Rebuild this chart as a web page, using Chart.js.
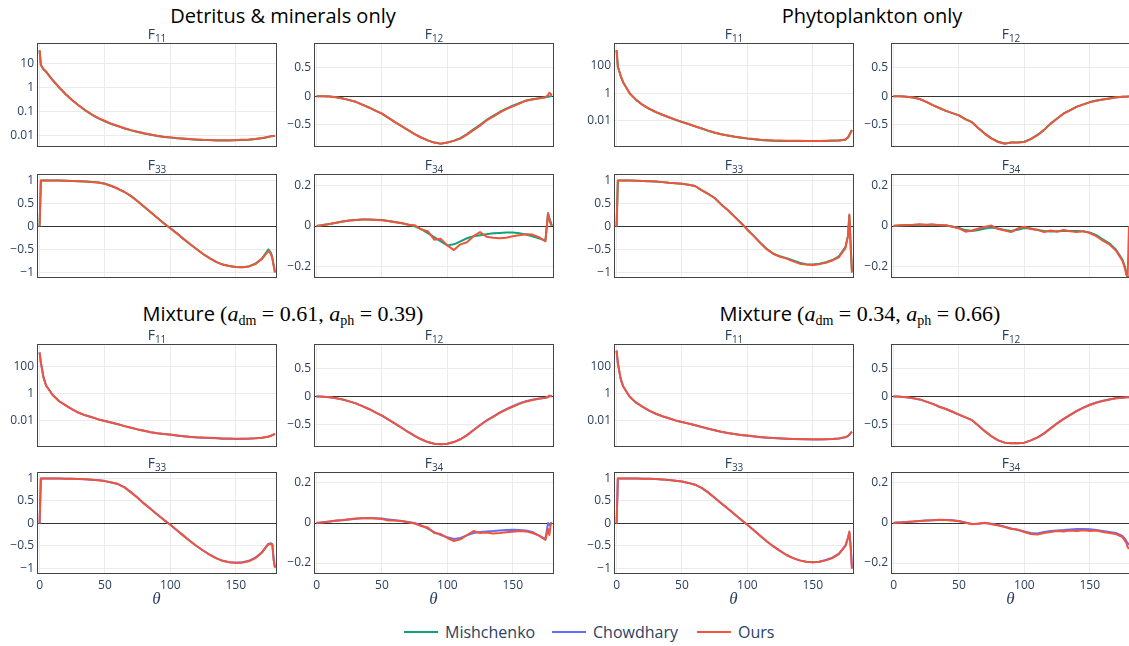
<!DOCTYPE html>
<html>
<head>
<meta charset="utf-8">
<script src="https://cdn.jsdelivr.net/npm/chart.js@4.4.1/dist/chart.umd.min.js"></script>
<style>
  html, body { margin: 0; padding: 0; width: 1129px; height: 646px; overflow: hidden; background: #fff; }
  canvas { position: absolute; }
  .grp { position: absolute; font-family: 'Open Sans', sans-serif; font-size: 20px; line-height: 24px;
         color: #000; white-space: nowrap; transform: translateX(-50%); }
  .math { font-family: 'Liberation Serif', 'DejaVu Serif', serif; font-size: 22px; }
  .math sub { font-size: 14px; vertical-align: -4px; line-height: 0; }
  .sub { position: absolute; font-family: 'Open Sans', sans-serif; font-size: 14px; line-height: 14px;
         color: #2a3f5f; text-align: center; }
  .sub sub { font-size: 10px; vertical-align: -3px; line-height: 0; }
  .theta { position: absolute; font-family: 'Liberation Serif', serif; font-style: italic; font-size: 17px;
           line-height: 20px; color: #2a3f5f; transform: translateX(-50%); }
  .leg { position: absolute; top: 622px; height: 20px; font-family: 'Open Sans', sans-serif; font-size: 16px;
         line-height: 20px; color: #2a3f5f; white-space: nowrap; }
  .legline { position: absolute; top: 631px; height: 2px; width: 34px; }
</style>
</head>
<body>
<div class="grp" style="left:283px; top:4px;">Detritus &amp; minerals only</div>
<div class="grp" style="left:872px; top:4px;">Phytoplankton only</div>
<div class="grp" style="left:283px; top:302px;">Mixture <span class="math">(<i>a</i><sub>dm</sub> = 0.61, <i>a</i><sub>ph</sub> = 0.39)</span></div>
<div class="grp" style="left:860px; top:302px;">Mixture <span class="math">(<i>a</i><sub>dm</sub> = 0.34, <i>a</i><sub>ph</sub> = 0.66)</span></div>

<div class="legline" style="left:404px; background:#13a07c;"></div>
<div class="leg" style="left:445px;">Mishchenko</div>
<div class="legline" style="left:552px; background:#636efa;"></div>
<div class="leg" style="left:593px;">Chowdhary</div>
<div class="legline" style="left:697px; background:#ef553b;"></div>
<div class="leg" style="left:738px;">Ours</div>

<script>
// scattering angle grid (degrees), shared by every curve
var THETA = [0, 1, 3, 5, 10, 15, 20, 25, 30, 35, 40, 45, 50, 55, 60, 65, 70, 75, 80, 85, 90, 95,
  100, 105, 110, 115, 120, 125, 130, 135, 140, 145, 150, 155, 160, 165, 170, 175, 177, 178, 179, 180];

// ---- F11 ----
var detF11Ours = [38, 9, 6, 4.8, 2.14, 1.05, 0.55, 0.31, 0.186, 0.117, 0.078, 0.055, 0.042, 0.032,
  0.026, 0.021, 0.0174, 0.0148, 0.0129, 0.0115, 0.0102, 0.0093, 0.0087, 0.0081,
  0.0078, 0.0074, 0.0071, 0.0069, 0.0068, 0.0066, 0.0066, 0.0066, 0.0067, 0.0069,
  0.0071, 0.0075, 0.0081, 0.0092, 0.0098, 0.0099, 0.01, 0.01];
var detF11Mish = [36, 9, 6, 4.7, 2.12, 1.04, 0.55, 0.31, 0.185, 0.116, 0.077, 0.054, 0.041, 0.031,
  0.0255, 0.0205, 0.017, 0.0145, 0.0126, 0.0112, 0.01, 0.0091, 0.0085, 0.0079,
  0.0076, 0.0072, 0.007, 0.0068, 0.0067, 0.0065, 0.0065, 0.0065, 0.0066, 0.0068,
  0.007, 0.0074, 0.008, 0.009, 0.0096, 0.0098, 0.0099, 0.0099];
var phyF11Ours = [1380, 85, 20, 6.3, 1.0, 0.33, 0.14, 0.074, 0.043, 0.027, 0.018, 0.012, 0.0083, 0.0058,
  0.004, 0.00275, 0.0019, 0.00138, 0.00105, 0.00085, 0.0007, 0.0006, 0.00052, 0.00047,
  0.00042, 0.00039, 0.00037, 0.00036, 0.00035, 0.00035, 0.00035, 0.00034, 0.00034, 0.00034,
  0.00035, 0.00036, 0.00037, 0.00043, 0.00063, 0.00091, 0.0014, 0.0021];
var phyF11Mish = [1350, 85, 20, 6.2, 0.98, 0.33, 0.14, 0.073, 0.042, 0.027, 0.018, 0.0118, 0.0081, 0.0057,
  0.0039, 0.0027, 0.00185, 0.00135, 0.00103, 0.00083, 0.00068, 0.00058, 0.0005, 0.00045,
  0.0004, 0.00037, 0.00035, 0.00034, 0.00033, 0.00033, 0.00033, 0.00033, 0.00033, 0.00033,
  0.00034, 0.00035, 0.00036, 0.00042, 0.0006, 0.0009, 0.0014, 0.002];
var mx1F11Ours = [1100, 200, 16, 4, 0.8, 0.28, 0.14, 0.07, 0.04, 0.026, 0.019, 0.013, 0.01, 0.0076,
  0.0058, 0.0042, 0.0032, 0.0024, 0.0019, 0.0015, 0.00126, 0.0011, 0.001, 0.00087,
  0.00076, 0.00068, 0.00063, 0.0006, 0.00058, 0.00055, 0.00052, 0.00051, 0.0005, 0.0005,
  0.00051, 0.00054, 0.00059, 0.00071, 0.00083, 0.00093, 0.00105, 0.0011];
var mx1F11Chow = [1080, 195, 16, 4, 0.8, 0.28, 0.14, 0.07, 0.04, 0.026, 0.019, 0.013, 0.01, 0.0075,
  0.0057, 0.0042, 0.0032, 0.0024, 0.0019, 0.0015, 0.00125, 0.0011, 0.00098, 0.00086,
  0.00075, 0.00067, 0.00062, 0.00058, 0.00056, 0.00053, 0.0005, 0.00049, 0.00048, 0.00049,
  0.0005, 0.00053, 0.00058, 0.0007, 0.00082, 0.00092, 0.001, 0.0011];
var mx2F11Ours = [1500, 180, 14, 3.5, 0.6, 0.22, 0.11, 0.058, 0.034, 0.022, 0.016, 0.011, 0.0085, 0.0065,
  0.005, 0.0037, 0.0028, 0.0021, 0.0016, 0.0013, 0.0011, 0.00095, 0.00084, 0.00074,
  0.00066, 0.0006, 0.00056, 0.00053, 0.0005, 0.00048, 0.00047, 0.00046, 0.00045, 0.00045,
  0.00046, 0.00048, 0.00052, 0.00065, 0.0008, 0.001, 0.0013, 0.0016];
var mx2F11Chow = [1450, 175, 14, 3.5, 0.6, 0.22, 0.11, 0.057, 0.034, 0.022, 0.016, 0.011, 0.0084, 0.0064,
  0.0049, 0.0036, 0.0027, 0.0021, 0.0016, 0.0013, 0.0011, 0.00093, 0.00082, 0.00072,
  0.00064, 0.00059, 0.00055, 0.00052, 0.00049, 0.00047, 0.00046, 0.00045, 0.00044, 0.00044,
  0.00045, 0.00047, 0.00051, 0.00063, 0.00078, 0.00098, 0.0013, 0.0016];

// ---- F12 ----
var detF12Ours = [0, 0, 0, -0.002, -0.006, -0.02, -0.04, -0.07, -0.1, -0.15, -0.2, -0.255, -0.31, -0.385,
  -0.46, -0.53, -0.6, -0.67, -0.73, -0.78, -0.82, -0.84, -0.82, -0.79,
  -0.75, -0.68, -0.6, -0.52, -0.43, -0.36, -0.29, -0.23, -0.18, -0.13,
  -0.08, -0.06, -0.04, -0.02, 0.02, 0.06, 0.04, 0.01];
var detF12Mish = [0, 0, 0, -0.002, -0.006, -0.02, -0.04, -0.07, -0.1, -0.15, -0.2, -0.255, -0.31, -0.385,
  -0.46, -0.53, -0.6, -0.67, -0.73, -0.78, -0.82, -0.838, -0.82, -0.785,
  -0.74, -0.67, -0.585, -0.505, -0.42, -0.35, -0.28, -0.22, -0.17, -0.125,
  -0.08, -0.055, -0.035, -0.02, -0.012, -0.008, -0.004, 0];
var phyF12Ours = [0, 0, 0, -0.003, -0.01, -0.025, -0.05, -0.1, -0.16, -0.21, -0.26, -0.3, -0.34, -0.41,
  -0.46, -0.57, -0.67, -0.75, -0.81, -0.84, -0.82, -0.82, -0.81, -0.76,
  -0.69, -0.6, -0.49, -0.4, -0.31, -0.25, -0.19, -0.15, -0.11, -0.08,
  -0.06, -0.04, -0.02, -0.01, -0.008, -0.01, -0.005, -0.006];
var phyF12Mish = [0, 0, 0, -0.003, -0.01, -0.025, -0.05, -0.1, -0.16, -0.21, -0.26, -0.3, -0.34, -0.405,
  -0.46, -0.565, -0.665, -0.745, -0.805, -0.835, -0.82, -0.818, -0.805, -0.755,
  -0.685, -0.595, -0.485, -0.395, -0.305, -0.245, -0.185, -0.145, -0.105, -0.078,
  -0.058, -0.04, -0.022, -0.012, -0.01, -0.01, -0.008, -0.008];
var mx1F12Ours = [0, 0, 0, -0.003, -0.01, -0.03, -0.05, -0.085, -0.12, -0.17, -0.22, -0.28, -0.34, -0.41,
  -0.48, -0.555, -0.63, -0.7, -0.76, -0.81, -0.84, -0.85, -0.84, -0.81,
  -0.76, -0.69, -0.6, -0.51, -0.43, -0.36, -0.29, -0.23, -0.18, -0.13,
  -0.09, -0.06, -0.04, -0.02, 0, 0.02, 0.01, 0];
var mx1F12Chow = [0, 0, 0, -0.003, -0.01, -0.03, -0.05, -0.085, -0.12, -0.17, -0.22, -0.28, -0.34, -0.41,
  -0.48, -0.555, -0.63, -0.7, -0.76, -0.81, -0.84, -0.85, -0.84, -0.81,
  -0.76, -0.685, -0.595, -0.505, -0.425, -0.355, -0.285, -0.225, -0.17, -0.12,
  -0.08, -0.055, -0.035, -0.02, -0.01, 0, 0.01, 0.015];
var mx2F12Ours = [0, 0, 0, -0.003, -0.01, -0.03, -0.05, -0.09, -0.13, -0.18, -0.22, -0.27, -0.32, -0.37,
  -0.42, -0.52, -0.62, -0.71, -0.78, -0.82, -0.83, -0.83, -0.82, -0.78,
  -0.73, -0.66, -0.57, -0.48, -0.4, -0.33, -0.26, -0.2, -0.15, -0.11,
  -0.08, -0.05, -0.03, -0.02, -0.015, -0.01, -0.01, -0.01];
var mx2F12Chow = [0, 0, 0, -0.003, -0.01, -0.03, -0.05, -0.09, -0.13, -0.18, -0.22, -0.27, -0.32, -0.37,
  -0.42, -0.52, -0.62, -0.71, -0.78, -0.82, -0.83, -0.83, -0.82, -0.78,
  -0.725, -0.655, -0.565, -0.475, -0.395, -0.325, -0.255, -0.195, -0.145, -0.105,
  -0.075, -0.05, -0.03, -0.02, -0.015, -0.012, -0.01, -0.01];

// ---- F33 ----
var detF33Ours = [0, 1, 1, 1, 1, 0.998, 0.995, 0.99, 0.985, 0.978, 0.97, 0.955, 0.93, 0.88,
  0.82, 0.75, 0.66, 0.55, 0.43, 0.31, 0.19, 0.07, -0.04, -0.15,
  -0.27, -0.38, -0.49, -0.6, -0.69, -0.77, -0.83, -0.86, -0.88, -0.89,
  -0.87, -0.82, -0.71, -0.53, -0.6, -0.7, -0.85, -1];
var detF33Mish = [0, 1, 1, 1, 1, 0.998, 0.995, 0.99, 0.985, 0.978, 0.97, 0.955, 0.93, 0.88,
  0.82, 0.75, 0.66, 0.55, 0.43, 0.31, 0.19, 0.07, -0.04, -0.15,
  -0.27, -0.38, -0.49, -0.6, -0.69, -0.77, -0.83, -0.86, -0.88, -0.89,
  -0.87, -0.81, -0.7, -0.5, -0.58, -0.68, -0.84, -1];
var phyF33Ours = [0, 1, 1, 1, 1, 0.995, 0.99, 0.985, 0.98, 0.965, 0.95, 0.94, 0.93, 0.91,
  0.88, 0.79, 0.71, 0.62, 0.48, 0.36, 0.22, 0.08, -0.07, -0.21,
  -0.36, -0.5, -0.6, -0.66, -0.7, -0.76, -0.81, -0.83, -0.84, -0.82,
  -0.79, -0.74, -0.67, -0.47, -0.2, 0.26, -0.4, -1];
var phyF33Mish = [0, 1, 1, 1, 1, 0.995, 0.99, 0.985, 0.98, 0.965, 0.95, 0.94, 0.93, 0.91,
  0.88, 0.79, 0.71, 0.62, 0.48, 0.36, 0.22, 0.08, -0.07, -0.21,
  -0.36, -0.49, -0.59, -0.65, -0.69, -0.74, -0.79, -0.82, -0.83, -0.81,
  -0.78, -0.73, -0.65, -0.45, -0.2, 0.24, -0.4, -1];
var mx1F33Ours = [0, 1, 1, 1, 1, 0.998, 0.995, 0.99, 0.985, 0.98, 0.97, 0.96, 0.94, 0.91,
  0.875, 0.8, 0.69, 0.57, 0.44, 0.32, 0.2, 0.08, -0.03, -0.15,
  -0.27, -0.39, -0.5, -0.6, -0.69, -0.77, -0.83, -0.86, -0.87, -0.87,
  -0.84, -0.77, -0.65, -0.46, -0.46, -0.47, -0.8, -0.98];
var mx1F33Chow = [0, 1, 1, 1, 1, 0.998, 0.995, 0.99, 0.985, 0.98, 0.97, 0.96, 0.94, 0.91,
  0.875, 0.8, 0.69, 0.57, 0.44, 0.32, 0.2, 0.08, -0.03, -0.15,
  -0.27, -0.39, -0.5, -0.6, -0.69, -0.77, -0.83, -0.86, -0.87, -0.86,
  -0.83, -0.76, -0.64, -0.45, -0.44, -0.46, -0.8, -0.98];
var mx2F33Ours = [0, 1, 1, 1, 1, 0.998, 0.995, 0.99, 0.985, 0.975, 0.965, 0.95, 0.93, 0.9,
  0.86, 0.79, 0.69, 0.57, 0.45, 0.33, 0.21, 0.09, -0.03, -0.15,
  -0.28, -0.4, -0.51, -0.61, -0.7, -0.77, -0.82, -0.85, -0.86, -0.85,
  -0.82, -0.77, -0.68, -0.5, -0.32, -0.18, -0.5, -1];
var mx2F33Chow = [0, 1, 1, 1, 1, 0.998, 0.995, 0.99, 0.985, 0.975, 0.965, 0.95, 0.93, 0.9,
  0.86, 0.79, 0.69, 0.57, 0.45, 0.33, 0.21, 0.09, -0.03, -0.15,
  -0.28, -0.4, -0.51, -0.61, -0.7, -0.77, -0.82, -0.85, -0.86, -0.85,
  -0.81, -0.76, -0.67, -0.49, -0.32, -0.2, -0.5, -1];

// ---- F34 ----
var detF34Ours = [0, 0.001, 0.003, 0.005, 0.01, 0.016, 0.022, 0.027, 0.03, 0.032, 0.032, 0.03, 0.028, 0.024,
  0.018, 0.015, 0.006, 0.004, -0.017, -0.025, -0.067, -0.063, -0.095, -0.118,
  -0.09, -0.08, -0.05, -0.03, -0.053, -0.058, -0.06, -0.058, -0.05, -0.045,
  -0.04, -0.042, -0.055, -0.075, 0.062, 0.03, 0.01, 0];
var detF34Mish = [0, 0.001, 0.003, 0.005, 0.01, 0.016, 0.022, 0.027, 0.03, 0.032, 0.032, 0.031, 0.029, 0.025,
  0.02, 0.014, 0.007, -0.002, -0.015, -0.035, -0.055, -0.075, -0.095, -0.09,
  -0.075, -0.06, -0.05, -0.045, -0.04, -0.036, -0.034, -0.032, -0.032, -0.035,
  -0.042, -0.05, -0.06, -0.072, 0.062, 0.04, 0.02, 0];
var phyF34Ours = [0, 0.001, 0.002, 0.004, 0.005, 0.006, 0.008, 0.005, 0.008, 0.004, 0.004, -0.004, -0.012, -0.028,
  -0.022, -0.012, -0.004, 0.002, -0.015, -0.022, -0.03, -0.012, -0.004, -0.015,
  -0.018, -0.03, -0.022, -0.028, -0.02, -0.026, -0.03, -0.024, -0.035, -0.05,
  -0.072, -0.09, -0.12, -0.17, -0.21, -0.24, -0.25, 0];
var phyF34Mish = [0, 0.001, 0.002, 0.003, 0.004, 0.005, 0.006, 0.006, 0.006, 0.005, 0.003, -0.002, -0.01, -0.02,
  -0.025, -0.02, -0.012, -0.008, -0.012, -0.02, -0.025, -0.018, -0.01, -0.012,
  -0.02, -0.025, -0.027, -0.026, -0.025, -0.024, -0.025, -0.027, -0.032, -0.045,
  -0.065, -0.085, -0.115, -0.165, -0.2, -0.23, -0.25, -0.25];
var mx1F34Ours = [0, 0.001, 0.002, 0.004, 0.008, 0.012, 0.015, 0.019, 0.022, 0.024, 0.025, 0.023, 0.02, 0.013,
  0.012, 0.01, 0.004, -0.003, -0.015, -0.022, -0.05, -0.055, -0.075, -0.09,
  -0.082, -0.06, -0.04, -0.05, -0.048, -0.052, -0.05, -0.046, -0.044, -0.04,
  -0.042, -0.05, -0.062, -0.085, -0.03, -0.06, -0.01, 0];
var mx1F34Chow = [0, 0.001, 0.002, 0.004, 0.007, 0.011, 0.014, 0.018, 0.021, 0.024, 0.025, 0.024, 0.022, 0.018,
  0.014, 0.01, 0.005, 0, -0.012, -0.028, -0.046, -0.06, -0.071, -0.08,
  -0.075, -0.062, -0.05, -0.045, -0.042, -0.04, -0.037, -0.035, -0.034, -0.035,
  -0.037, -0.045, -0.063, -0.08, 0, -0.01, 0, 0];
var mx2F34Ours = [0, 0.001, 0.002, 0.003, 0.005, 0.008, 0.01, 0.013, 0.014, 0.016, 0.015, 0.013, 0.009, 0.001,
  -0.006, -0.002, 0.001, -0.006, -0.012, -0.02, -0.03, -0.033, -0.045, -0.055,
  -0.058, -0.05, -0.045, -0.04, -0.042, -0.038, -0.04, -0.036, -0.04, -0.038,
  -0.045, -0.05, -0.055, -0.07, -0.09, -0.1, -0.12, -0.13];
var mx2F34Chow = [0, 0.001, 0.002, 0.003, 0.005, 0.007, 0.01, 0.012, 0.014, 0.015, 0.015, 0.014, 0.01, 0.003,
  -0.005, -0.004, 0, -0.004, -0.01, -0.018, -0.027, -0.035, -0.042, -0.05,
  -0.052, -0.045, -0.04, -0.037, -0.035, -0.032, -0.03, -0.03, -0.031, -0.035,
  -0.04, -0.045, -0.05, -0.065, -0.08, -0.09, -0.1, -0.11];

// tick values
var xTicks = [0, 50, 100, 150];
var f11DetTicks = [10, 1, 0.1, 0.01];
var f11Ticks = [100, 1, 0.01];
var f12Ticks = [0.5, 0, -0.5];
var f33Ticks = [1, 0.5, 0, -0.5, -1];
var f34Ticks = [0.2, 0, -0.2];

var OURS = '#ef553b', MISH = '#13a07c', CHOW = '#636efa';

var yAxes = {
  f11dm: { type: 'logarithmic', min: 0.0038, max: 68, ticks: f11DetTicks },
  f11: { type: 'logarithmic', min: 1.45e-4, max: 3800, ticks: f11Ticks },
  f12: { type: 'linear', min: -0.88, max: 0.92, ticks: f12Ticks },
  f33: { type: 'linear', min: -1.1, max: 1.12, ticks: f33Ticks },
  f34: { type: 'linear', min: -0.25, max: 0.25, ticks: f34Ticks }
};

// plot-area edges in page pixels
var cols = [[38, 276], [315, 553], [615, 853], [892, 1130]];
var rows = [[44, 146], [175, 277], [345, 446], [473, 573]];

var panels = [
  { col: 0, row: 0, name: '11', axis: 'f11dm', ours: detF11Ours, ref: detF11Mish, refColor: MISH },
  { col: 1, row: 0, name: '12', axis: 'f12', ours: detF12Ours, ref: detF12Mish, refColor: MISH },
  { col: 0, row: 1, name: '33', axis: 'f33', ours: detF33Ours, ref: detF33Mish, refColor: MISH },
  { col: 1, row: 1, name: '34', axis: 'f34', ours: detF34Ours, ref: detF34Mish, refColor: MISH },
  { col: 2, row: 0, name: '11', axis: 'f11', ours: phyF11Ours, ref: phyF11Mish, refColor: MISH },
  { col: 3, row: 0, name: '12', axis: 'f12', ours: phyF12Ours, ref: phyF12Mish, refColor: MISH },
  { col: 2, row: 1, name: '33', axis: 'f33', ours: phyF33Ours, ref: phyF33Mish, refColor: MISH },
  { col: 3, row: 1, name: '34', axis: 'f34', ours: phyF34Ours, ref: phyF34Mish, refColor: MISH },
  { col: 0, row: 2, name: '11', axis: 'f11', ours: mx1F11Ours, ref: mx1F11Chow, refColor: CHOW },
  { col: 1, row: 2, name: '12', axis: 'f12', ours: mx1F12Ours, ref: mx1F12Chow, refColor: CHOW },
  { col: 0, row: 3, name: '33', axis: 'f33', ours: mx1F33Ours, ref: mx1F33Chow, refColor: CHOW },
  { col: 1, row: 3, name: '34', axis: 'f34', ours: mx1F34Ours, ref: mx1F34Chow, refColor: CHOW },
  { col: 2, row: 2, name: '11', axis: 'f11', ours: mx2F11Ours, ref: mx2F11Chow, refColor: CHOW },
  { col: 3, row: 2, name: '12', axis: 'f12', ours: mx2F12Ours, ref: mx2F12Chow, refColor: CHOW },
  { col: 2, row: 3, name: '33', axis: 'f33', ours: mx2F33Ours, ref: mx2F33Chow, refColor: CHOW },
  { col: 3, row: 3, name: '34', axis: 'f34', ours: mx2F34Ours, ref: mx2F34Chow, refColor: CHOW }
];

Chart.defaults.font.family = "'Open Sans', sans-serif";
Chart.defaults.font.size = 12;
Chart.defaults.color = '#2a3f5f';

function fmt(v) {
  return (v < 0 ? '\u2212' : '') + String(Math.abs(v));
}

function pts(vals) {
  return THETA.map(function (t, i) { return { x: t, y: vals[i] }; });
}

// box round the plot area, drawn over the traces
var frame = {
  id: 'frame',
  afterDatasetsDraw: function (chart) {
    var a = chart.chartArea, ctx = chart.ctx;
    ctx.save();
    ctx.strokeStyle = '#444';
    ctx.lineWidth = 1;
    ctx.strokeRect(Math.round(a.left) - 0.5, Math.round(a.top) - 0.5,
      Math.round(a.right - a.left) + 1, Math.round(a.bottom - a.top) + 1);
    ctx.restore();
  }
};

panels.forEach(function (p) {
  var c = cols[p.col], r = rows[p.row];
  var bottom = p.row === 3;
  var ax = yAxes[p.axis];

  var cv = document.createElement('canvas');
  cv.width = 40 + (c[1] - c[0]) + 2;
  cv.height = 2 + (r[1] - r[0]) + (bottom ? 22 : 2);
  cv.style.left = (c[0] - 40) + 'px';
  cv.style.top = (r[0] - 2) + 'px';
  document.body.appendChild(cv);

  var t = document.createElement('div');
  t.className = 'sub';
  t.style.left = c[0] + 'px';
  t.style.width = (c[1] - c[0]) + 'px';
  t.style.top = (r[0] - 17) + 'px';
  t.innerHTML = 'F<sub>' + p.name + '</sub>';
  document.body.appendChild(t);

  if (bottom) {
    var th = document.createElement('div');
    th.className = 'theta';
    th.style.left = ((c[0] + c[1]) / 2 - 0.5) + 'px';
    th.style.top = '589px';
    th.textContent = '\u03b8';
    document.body.appendChild(th);
  }

  new Chart(cv, {
    type: 'line',
    data: {
      datasets: [
        { label: 'Ours', data: pts(p.ours), borderColor: OURS, borderWidth: 2 },
        { label: 'ref', data: pts(p.ref), borderColor: p.refColor, borderWidth: 2 }
      ]
    },
    options: {
      responsive: false,
      animation: false,
      devicePixelRatio: 1,
      layout: { padding: { left: 0, top: 2, right: 2, bottom: bottom ? 0 : 2 } },
      plugins: { legend: { display: false }, tooltip: { enabled: false } },
      elements: { point: { radius: 0 }, line: { tension: 0, borderJoinStyle: 'round' } },
      scales: {
        x: {
          type: 'linear', min: -1.2, max: 180.8,
          afterBuildTicks: function (s) {
            s.ticks = xTicks.map(function (v) { return { value: v }; });
            s.min = -1.2; s.max = 180.8;
          },
          afterFit: function (s) {
            s.height = bottom ? 22 : 0;
            s.paddingLeft = 0; s.paddingRight = 0;
          },
          grid: { color: '#ebebeb', drawTicks: false },
          border: { display: false },
          ticks: { display: bottom, padding: 5, autoSkip: false, maxRotation: 0,
                   callback: function (v) { return String(v); } }
        },
        y: {
          type: ax.type, min: ax.min, max: ax.max,
          afterBuildTicks: function (s) {
            s.ticks = ax.ticks.map(function (v) { return { value: v }; });
            s.min = ax.min; s.max = ax.max;
          },
          afterFit: function (s) {
            s.width = 40;
            s.paddingTop = 0; s.paddingBottom = 0;
          },
          grid: {
            drawTicks: false,
            color: function (ctx) { return ctx.tick && ctx.tick.value === 0 ? '#333' : '#ebebeb'; }
          },
          border: { display: false },
          ticks: { padding: 4, autoSkip: false, callback: function (v) { return fmt(v); } }
        }
      }
    },
    plugins: [frame]
  });
});
</script>
</body>
</html>
